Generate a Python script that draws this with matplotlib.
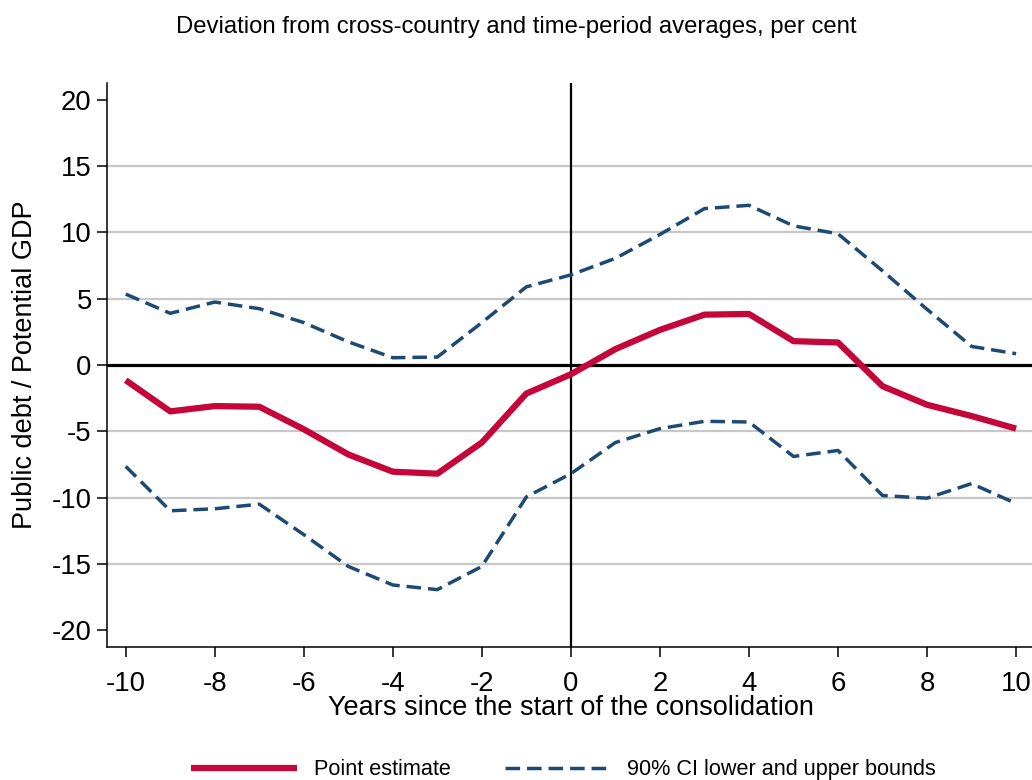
import matplotlib
matplotlib.use("Agg")
import matplotlib.pyplot as plt

plt.rcParams['font.family'] = ['Liberation Sans', 'DejaVu Sans']
plt.rcParams['axes.unicode_minus'] = False

years = list(range(-10, 11))
point_estimate = [-1.15, -3.5, -3.1, -3.15, -4.85, -6.75, -8.05, -8.2, -5.85, -2.15,
                  -0.7, 1.2, 2.65, 3.8, 3.85, 1.8, 1.7, -1.6, -3.0, -3.85, -4.8]
ci_upper = [5.35, 3.9, 4.75, 4.25, 3.2, 1.75, 0.55, 0.6, 3.2, 5.9,
            6.8, 8.05, 9.85, 11.8, 12.05, 10.5, 9.9, 7.1, 4.2, 1.4, 0.85]
ci_lower = [-7.65, -11.0, -10.85, -10.5, -12.8, -15.2, -16.6, -16.95, -15.2, -9.95,
            -8.2, -5.85, -4.8, -4.25, -4.3, -6.9, -6.45, -9.85, -10.05, -8.95, -10.45]

x_ticks = list(range(-10, 11, 2))
y_ticks = list(range(-20, 21, 5))
grid_vals = [-15, -10, -5, 5, 10, 15]

title = "Deviation from cross-country and time-period averages, per cent"
xlabel = "Years since the start of the consolidation"
ylabel = "Public debt / Potential GDP"

red = '#c4063a'
blue = '#1d4a73'

fig = plt.figure(figsize=(10.32, 7.8), dpi=100)
ax = fig.add_axes([0.1037, 0.1705, 0.899, 0.7231])

for v in grid_vals:
    ax.axhline(v, color='#c8c8c8', lw=1.6, zorder=1)
ax.axhline(0, color='black', lw=2.3, zorder=2)
ax.axvline(0, color='black', lw=1.6, zorder=2)

l_pt, = ax.plot(years, point_estimate, color=red, lw=4.5, solid_capstyle='butt',
                solid_joinstyle='round', zorder=4, label='Point estimate')
l_ci, = ax.plot(years, ci_upper, color=blue, lw=2.5, dashes=(4.2, 2.0), zorder=3,
                label='90% CI lower and upper bounds')
ax.plot(years, ci_lower, color=blue, lw=2.5, dashes=(4.2, 2.0), zorder=3)

ax.set_xlim(-10.42, 10.42)
ax.set_ylim(-21.28, 21.28)
ax.set_xticks(x_ticks)
ax.set_yticks(y_ticks)
ax.tick_params(axis='both', labelsize=19.8, length=7, width=1.1, direction='out',
               colors='black')
ax.tick_params(axis='x', pad=10)
ax.tick_params(axis='y', pad=4)
for s in ['top', 'right']:
    ax.spines[s].set_visible(False)
for s in ['left', 'bottom']:
    ax.spines[s].set_linewidth(1.1)

ax.set_xlabel(xlabel, fontsize=19.5, labelpad=-1)
ax.set_ylabel(ylabel, fontsize=19.5, labelpad=10)

fig.text(0.5, 0.965, title, ha='center', va='center', fontsize=17.2)

fig.legend(handles=[l_pt, l_ci], loc='center', bbox_to_anchor=(0.546, 0.013),
           ncol=2, frameon=False, fontsize=15.6, handlelength=4.9, columnspacing=2.5,
           handletextpad=0.75)

fig.savefig('out.png', dpi=100)
